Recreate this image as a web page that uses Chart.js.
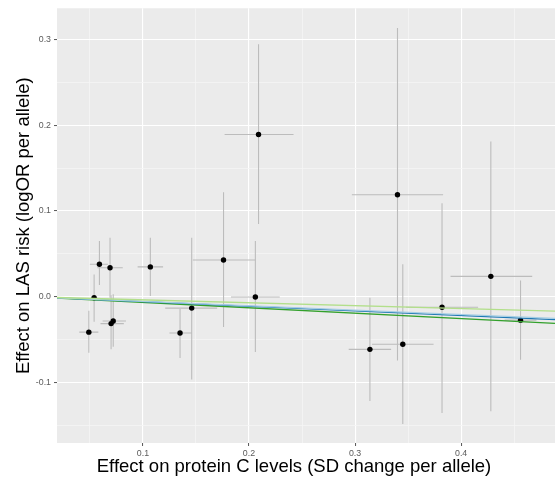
<!DOCTYPE html>
<html>
<head>
<meta charset="utf-8">
<script src="https://cdn.jsdelivr.net/npm/chart.js@4/dist/chart.umd.min.js"></script>
<style>
  html, body { margin: 0; padding: 0; background: #fff; }
</style>
</head>
<body>
<canvas id="chart" width="559" height="484"></canvas>
<script>
// per-SNP effects: protein C (x) and LAS risk (y), with interval ends
const snpX     = [0.049, 0.054, 0.059, 0.069, 0.070, 0.072, 0.107, 0.135, 0.146, 0.176, 0.206, 0.209, 0.314, 0.340, 0.345, 0.382, 0.428, 0.456];
const snpXLow  = [0.040, 0.051, 0.050, 0.057, 0.060, 0.062, 0.095, 0.125, 0.121, 0.147, 0.183, 0.177, 0.294, 0.297, 0.316, 0.348, 0.390, 0.441];
const snpXHigh = [0.058, 0.057, 0.067, 0.081, 0.082, 0.084, 0.119, 0.146, 0.170, 0.206, 0.229, 0.242, 0.334, 0.383, 0.374, 0.416, 0.467, 0.471];
const snpY     = [-0.041, -0.001, 0.038, 0.034, -0.031, -0.028, 0.035, -0.042, -0.013, 0.043, 0.000, 0.189, -0.061, 0.119, -0.055, -0.012, 0.024, -0.027];
const snpYLow  = [-0.065, -0.029, 0.014, -0.001, -0.061, -0.058, 0.001, -0.071, -0.096, -0.035, -0.064, 0.085, -0.121, -0.074, -0.148, -0.135, -0.133, -0.073];
const snpYHigh = [-0.016, 0.026, 0.065, 0.069, 0.002, 0.003, 0.069, -0.014, 0.069, 0.122, 0.065, 0.294, -0.001, 0.313, 0.038, 0.109, 0.181, 0.019];

// fitted MR slopes (lines through the origin)
const fitSlopes = [-0.034, -0.051, -0.054, -0.063];
const fitColors = ['#b2df8a', '#a6cee3', '#1f78b4', '#33a02c'];

const xRange = [0.019, 0.4885];
const yRange = [-0.170, 0.336];
const xTitle = 'Effect on protein C levels (SD change per allele)';
const yTitle = 'Effect on LAS risk (logOR per allele)';

const isMajor = v => Math.abs(Math.round(v * 10) - v * 10) < 1e-6;
const fmt = v => (Math.abs(v) < 1e-9 ? 0 : v).toFixed(1);
const fontFamily = '"Liberation Sans", Arial, sans-serif';

const panelBg = {
    id: 'panelBg',
    beforeDraw(chart) {
        const { ctx, chartArea: a } = chart;
        ctx.save();
        ctx.fillStyle = '#ebebeb';
        ctx.fillRect(a.left, a.top, a.right - a.left, a.bottom - a.top);
        ctx.restore();
    }
};

const errorBars = {
    id: 'errorBars',
    beforeDatasetsDraw(chart) {
        const { ctx, chartArea: a, scales: { x, y } } = chart;
        ctx.save();
        ctx.beginPath();
        ctx.rect(a.left, a.top, a.right - a.left, a.bottom - a.top);
        ctx.clip();
        ctx.strokeStyle = '#bcbcbc';
        ctx.lineWidth = 1.1;
        snpX.forEach((v, i) => {
            const px = x.getPixelForValue(v);
            const py = y.getPixelForValue(snpY[i]);
            ctx.beginPath();
            ctx.moveTo(x.getPixelForValue(snpXLow[i]), py);
            ctx.lineTo(x.getPixelForValue(snpXHigh[i]), py);
            ctx.moveTo(px, y.getPixelForValue(snpYLow[i]));
            ctx.lineTo(px, y.getPixelForValue(snpYHigh[i]));
            ctx.stroke();
        });
        ctx.restore();
    }
};

// x title sits a little left of the panel centre in the original
const xTitlePlugin = {
    id: 'xTitlePlugin',
    afterDraw(chart) {
        const { ctx, chartArea: a } = chart;
        ctx.save();
        ctx.font = '18.5px ' + fontFamily;
        ctx.fillStyle = '#000000';
        ctx.textAlign = 'center';
        ctx.textBaseline = 'middle';
        ctx.fillText(xTitle, (a.left + a.right) / 2 - 12, a.bottom + 24);
        ctx.restore();
    }
};

const fitSets = fitSlopes.map((b, i) => ({
    type: 'line',
    data: xRange.map(x => ({ x, y: b * x })),
    borderColor: fitColors[i],
    borderWidth: 1.3,
    pointRadius: 0,
    order: 0
}));

const gridOpts = {
    color: c => c.tick && isMajor(c.tick.value) ? '#ffffff' : '#f5f5f5',
    lineWidth: c => c.tick && isMajor(c.tick.value) ? 1.1 : 0.8,
    tickColor: c => c.tick && isMajor(c.tick.value) ? '#555555' : 'rgba(0,0,0,0)',
    tickWidth: 1,
    tickLength: 3,
    drawTicks: true
};

const tickFont = { family: fontFamily, size: 8.8 };

new Chart(document.getElementById('chart'), {
    type: 'scatter',
    data: {
        datasets: [
            ...fitSets,
            {
                data: snpX.map((x, i) => ({ x, y: snpY[i] })),
                backgroundColor: '#000000',
                borderWidth: 0,
                pointRadius: 2.7,
                order: 1
            }
        ]
    },
    options: {
        responsive: false,
        animation: false,
        layout: { padding: { top: 7, left: 0, right: 0, bottom: 0 } },
        plugins: { legend: { display: false }, tooltip: { enabled: false } },
        scales: {
            x: {
                type: 'linear',
                min: xRange[0],
                max: xRange[1],
                border: { display: false },
                grid: gridOpts,
                ticks: {
                    stepSize: 0.05,
                    includeBounds: false,
                    autoSkip: false,
                    maxRotation: 0,
                    padding: 2,
                    color: '#5a5a5a',
                    font: tickFont,
                    callback: v => isMajor(v) ? fmt(v) : ''
                },
                afterFit: s => { s.height = 41; }
            },
            y: {
                type: 'linear',
                min: yRange[0],
                max: yRange[1],
                border: { display: false },
                grid: gridOpts,
                ticks: {
                    stepSize: 0.05,
                    includeBounds: false,
                    autoSkip: false,
                    padding: 3,
                    color: '#5a5a5a',
                    font: tickFont,
                    callback: v => isMajor(v) ? fmt(v) : ''
                },
                title: {
                    display: true,
                    text: yTitle,
                    color: '#000000',
                    font: { family: fontFamily, size: 18.5 },
                    padding: { top: 13, bottom: 0 }
                },
                afterFit: s => { s.width = 57; }
            }
        }
    },
    plugins: [panelBg, errorBars, xTitlePlugin]
});
</script>
</body>
</html>
